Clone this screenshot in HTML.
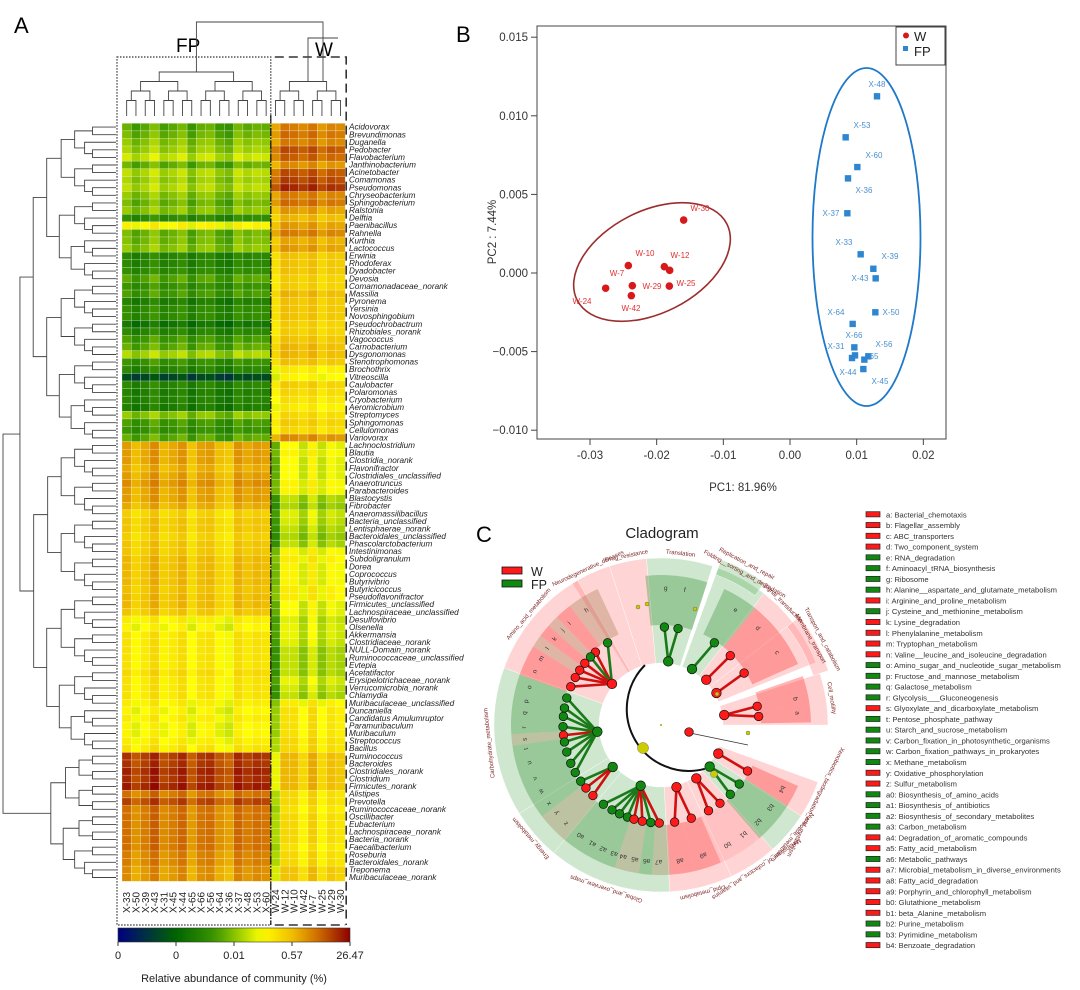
<!DOCTYPE html>
<html><head><meta charset="utf-8"><style>
html,body{margin:0;padding:0;background:#fff}
svg{display:block;font-family:"Liberation Sans",sans-serif}
</style></head><body>
<svg id="fig" width="1080" height="990" viewBox="0 0 1080 990" xmlns="http://www.w3.org/2000/svg">
<g id="panelA"></g>
<g id="panelB"></g>
<g id="panelC"></g>
</svg>
<script>
// ===== Panel A data =====
const taxa = ["Acidovorax","Brevundimonas","Duganella","Pedobacter","Flavobacterium","Janthinobacterium","Acinetobacter","Comamonas","Pseudomonas","Chryseobacterium","Sphingobacterium","Ralstonia","Delftia","Paenibacillus","Rahnella","Kurthia","Lactococcus","Erwinia","Rhodoferax","Dyadobacter","Devosia","Comamonadaceae_norank","Massilia","Pyronema","Yersinia","Novosphingobium","Pseudochrobactrum","Rhizobiales_norank","Vagococcus","Carnobacterium","Dysgonomonas","Stenotrophomonas","Brochothrix","Vitreoscilla","Caulobacter","Polaromonas","Cryobacterium","Aeromicrobium","Streptomyces","Sphingomonas","Cellulomonas","Variovorax","Lachnoclostridium","Blautia","Clostridia_norank","Flavonifractor","Clostridiales_unclassified","Anaerotruncus","Parabacteroides","Blastocystis","Fibrobacter","Anaeromassilibacillus","Bacteria_unclassified","Lentisphaerae_norank","Bacteroidales_unclassified","Phascolarctobacterium","Intestinimonas","Subdoligranulum","Dorea","Coprococcus","Butyrivibrio","Butyricicoccus","Pseudoflavonifractor","Firmicutes_unclassified","Lachnospiraceae_unclassified","Desulfovibrio","Olsenella","Akkermansia","Clostridiaceae_norank","NULL-Domain_norank","Ruminococcaceae_unclassified","Evtepia","Acetatifactor","Erysipelotrichaceae_norank","Verrucomicrobia_norank","Chlamydia","Muribaculaceae_unclassified","Duncaniella","Candidatus Amulumruptor","Paramuribaculum","Muribaculum","Streptococcus","Bacillus","Ruminococcus","Bacteroides","Clostridiales_norank","Clostridium","Firmicutes_norank","Alistipes","Prevotella","Ruminococcaceae_norank","Oscillibacter","Eubacterium","Lachnospiraceae_norank","Bacteria_norank","Faecalibacterium","Roseburia","Bacteroidales_norank","Treponema","Muribaculaceae_norank"];
const samples = ["X-33","X-50","X-39","X-43","X-31","X-45","X-44","X-65","X-66","X-56","X-64","X-36","X-37","X-48","X-53","X-60","W-24","W-12","W-10","W-42","W-7","W-25","W-29","W-30"];
const fpLevel = [.45,.47,.50,.52,.56,.46,.54,.52,.54,.50,.47,.50,.38,.63,.47,.48,.50,.36,.36,.38,.44,.40,.42,.34,.38,.38,.30,.36,.42,.45,.53,.40,.36,.18,.36,.34,.35,.33,.50,.42,.40,.45,
.78,.78,.78,.76,.78,.80,.78,.78,.76,.70,.72,.72,.70,.72,.72,.74,.74,.74,.74,.73,.74,.74,.72,.64,.62,.66,.66,.66,.66,.66,.68,.66,.66,.66,.64,.62,.64,.62,.62,.64,.66,
.92,.92,.94,.93,.95,.84,.90,.84,.84,.84,.84,.84,.84,.82,.82,.80,.80];
const wLevel = [.82,.84,.82,.88,.86,.80,.88,.90,.93,.82,.84,.78,.74,.78,.82,.76,.78,.72,.72,.72,.70,.70,.74,.72,.72,.72,.70,.70,.72,.74,.74,.72,.64,.62,.70,.68,.66,.64,.68,.70,.68,.80,
.58,.60,.58,.58,.58,.60,.60,.52,.50,.55,.54,.52,.50,.52,.60,.62,.60,.60,.60,.62,.62,.58,.58,.55,.56,.56,.55,.52,.52,.52,.52,.56,.54,.52,.62,.64,.64,.64,.64,.66,.66,
.72,.72,.72,.72,.72,.66,.66,.64,.66,.66,.66,.66,.64,.66,.66,.70,.70];
const colOffset = [.02,-.03,.00,.04,-.02,.00,.03,-.04,.01,.02,-.03,-.05,.03,.00,.02,.01,-.04,.03,.02,.00,.03,-.02,.01,.00];
const lowerBlockOffset = [0,0,0,0,0,0,0,0,0,0,0,0,0,0,0,0,-.08,.01,.02,-.02,.03,.00,.02,.01];
const cbTicks = ["0","0","0.01","0.57","26.47"];

// ===== Panel B data =====
const wPC1 = [-0.02425,-0.01885,-0.01805,-0.01595,-0.02765,-0.02365,-0.0181,-0.0238];
const wPC2 = [0.00047,0.0004,0.00017,0.00337,-0.00097,-0.00081,-0.00083,-0.00144];
const fpPC1 = [0.01305,0.00835,0.0101,0.0087,0.0086,0.0106,0.0125,0.01285,0.0128,0.0094,0.00965,0.00975,0.0093,0.01115,0.01175,0.0110];
const fpPC2 = [0.01124,0.00863,0.00674,0.00602,0.0038,0.00119,0.00027,-0.00034,-0.0025,-0.00324,-0.00473,-0.00524,-0.00541,-0.00551,-0.0053,-0.00611];
const xTicks = [-0.03,-0.02,-0.01,0,0.01,0.02];
const xTickLabels = ["-0.03","-0.02","-0.01","0.00","0.01","0.02"];
const yTicks = [0.015,0.01,0.005,0,-0.005,-0.01];
const yTickLabels = ["0.015","0.010","0.005","0.000","\u22120.005","\u22120.010"];

// ===== Panel C data =====
const leafIds = ["a","b","c","d","e","f","g","h","i","j","k","l","m","n","o","p","q","r","s","t","u","v","w","x","y","z","a0","a1","a2","a3","a4","a5","a6","a7","a8","a9","b0","b1","b2","b3","b4"];
const leafNames = ["Bacterial_chemotaxis","Flagellar_assembly","ABC_transporters","Two_component_system","RNA_degradation","Aminoacyl_tRNA_biosynthesis","Ribosome","Alanine__aspartate_and_glutamate_metabolism","Arginine_and_proline_metabolism","Cysteine_and_methionine_metabolism","Lysine_degradation","Phenylalanine_metabolism","Tryptophan_metabolism","Valine__leucine_and_isoleucine_degradation","Amino_sugar_and_nucleotide_sugar_metabolism","Fructose_and_mannose_metabolism","Galactose_metabolism","Glycolysis___Gluconeogenesis","Glyoxylate_and_dicarboxylate_metabolism","Pentose_phosphate_pathway","Starch_and_sucrose_metabolism","Carbon_fixation_in_photosynthetic_organisms","Carbon_fixation_pathways_in_prokaryotes","Methane_metabolism","Oxidative_phosphorylation","Sulfur_metabolism","Biosynthesis_of_amino_acids","Biosynthesis_of_antibiotics","Biosynthesis_of_secondary_metabolites","Carbon_metabolism","Degradation_of_aromatic_compounds","Fatty_acid_metabolism","Metabolic_pathways","Microbial_metabolism_in_diverse_environments","Fatty_acid_degradation","Porphyrin_and_chlorophyll_metabolism","Glutathione_metabolism","beta_Alanine_metabolism","Purine_metabolism","Pyrimidine_metabolism","Benzoate_degradation"];
const leafGroup = ["W","W","W","W","FP","FP","FP","FP","W","FP","W","W","W","W","FP","FP","FP","FP","W","FP","FP","FP","FP","FP","W","W","FP","FP","FP","FP","W","W","FP","W","W","W","W","W","FP","FP","W"];
const leafAngle = [355,349,328,315,303,280,272,237,228,224,219,214,209,203,196,190,185,179,174,170,164,157,151,145,140,134,126,120,115,110,106,101,96,91,82,72,61,53,45,37,28];
const leafShade = ["W","W","W","W","FP","FP","FP","M","W","M","W","M","W","W","FP","FP","FP","FP","M","FP","FP","FP","FP","FP","M","M","FP","FP","FP","FP","M","M","FP","M","W","W","Wp","Wp","FP","FP","W"];
const classNames = ["Cell_motility","Membrane_transport","Signal_transduction","Folding__sorting_and_degradation","Translation","Drug_resistance","Neurodegenerative_diseases","Amino_acid_metabolism","Carbohydrate_metabolism","Energy_metabolism","Global_and_overview_maps","Lipid_metabolism","Metabolism_of_cofactors_and_vitamins","Nucleotide_metabolism","Xenobiotics_biodegradation_and_metabolism","Replication_and_repair","Transport_and_catabolism"];
const classStart = [342,322,308,290,265,252,238,200,148,130,87,65,48,33,20,290,322];
const classEnd = [360,338,322,308,288,265,252,240,200,148,130,87,65,48,33,306,342];
const classGroup = ["W","W","W","FP","FP","W","W","W","FP","FP","FP","W","W","FP","W","FP","W"];
const classLeafFrom = [0,2,3,4,5,-1,-1,7,14,23,26,34,36,38,40,-1,-1];
const classLeafTo = [1,2,3,4,6,-1,-1,13,22,25,33,35,37,39,40,-1,-1];

const NS="http://www.w3.org/2000/svg";
function mk(parent,tag,attrs,text){const e=document.createElementNS(NS,tag);for(const k in attrs)e.setAttribute(k,attrs[k]);if(text!==undefined)e.textContent=text;parent.appendChild(e);return e;}

// ================= PANEL A =================
(function(){
const g=document.getElementById('panelA');
const x0=122,cw=9.3,y0=123.3,ch=7.58;
const stops=[[0,[0,0,128]],[0.25,[0,100,0]],[0.42,[60,150,0]],[0.52,[154,205,0]],[0.62,[255,255,0]],[0.75,[240,190,0]],[0.86,[208,110,0]],[1,[139,0,0]]];
function col(v){v=Math.max(0,Math.min(1,v));for(let i=1;i<stops.length;i++){if(v<=stops[i][0]){const a=stops[i-1],b=stops[i];const t=(v-a[0])/(b[0]-a[0]);const c=a[1].map((q,j)=>Math.round(q+(b[1][j]-q)*t));return `rgb(${c[0]},${c[1]},${c[2]})`;}}return 'rgb(139,0,0)';}
const xs=j=>x0+j*cw, ys=i=>y0+i*ch;
const lab=mk(g,'text',{x:14,y:33,'font-size':22});lab.textContent='A';

const cells=mk(g,'g',{});

for(let i=0;i<taxa.length;i++){for(let j=0;j<samples.length;j++){
 const base=j<16?fpLevel[i]:wLevel[i];
 const v=base+colOffset[j]+(i>=42?lowerBlockOffset[j]:0);
 const r=mk(cells,'rect',{x:xs(j),y:ys(i),width:cw,height:ch,fill:col(v),stroke:'rgba(255,255,255,0.45)','stroke-width':0.5});
 
 
}}
for(let i=0;i<taxa.length;i++){
 const t=mk(g,'text',{x:349,y:ys(i)+ch-1.2,'font-size':8.2,'font-style':'italic',fill:'#222'},taxa[i]);
 
 
}
for(let j=0;j<samples.length;j++){
 const cx=xs(j)+cw/2+3.5;
 const t=mk(g,'text',{x:cx,y:913,'font-size':10,fill:'#222',transform:`rotate(-90 ${cx} 913)`},samples[j]);
 
 
}
const hx=x0+16*cw, ex=x0+24*cw;
mk(g,'rect',{x:117,y:57,width:hx-117,height:868,fill:'none',stroke:'#333','stroke-width':1.2,'stroke-dasharray':'1.5,1.5'});
mk(g,'line',{x1:hx,y1:115,x2:hx,y2:925,stroke:'#111','stroke-width':1.2,'stroke-dasharray':'8,2,1,2'});
mk(g,'path',{d:`M${hx+4} 57 H${ex+1} V925 M${hx+4} 925 H${ex}`,fill:'none',stroke:'#333','stroke-width':1.6,'stroke-dasharray':'9,5'});
const fpT=mk(g,'text',{x:176,y:52,'font-size':19},'FP');
const wT=mk(g,'text',{x:315,y:56,'font-size':19},'W');
const dg=mk(g,'g',{stroke:'#444','stroke-width':0.9,fill:'none'});

function colD(lo,hi){ if(lo===hi) return {x:xs(lo)+cw/2,y:116};
 const mid=Math.floor((lo+hi+1)/2)-1; const a=colD(lo,mid), b=colD(mid+1,hi);
 const n=hi-lo+1; const y=116-(6+9.5*Math.log2(n));
 mk(dg,'path',{d:`M${a.x} ${a.y} V${y} H${b.x} V${b.y}`}); return {x:(a.x+b.x)/2,y};}
const A=colD(0,15), B=colD(16,23);
mk(dg,'path',{d:`M${A.x} ${A.y} V22 H${B.x+15} V${B.y-0} `});
mk(dg,'path',{d:`M${B.x} ${B.y} V38 H${B.x+30}`});
const rg=mk(g,'g',{stroke:'#444','stroke-width':0.9,fill:'none'});

function rowD(lo,hi){ if(lo===hi) return {x:116,y:ys(lo)+ch/2};
 let mid; if(lo===0&&hi===99) mid=82; else if(lo===0&&hi===82) mid=41; else mid=Math.floor((lo+hi+1)/2)-1;
 const a=rowD(lo,mid), b=rowD(mid+1,hi); const n=hi-lo+1;
 let x=116-(10+13.5*Math.log2(n)); if(lo===0&&hi===99) x=3;
 mk(rg,'path',{d:`M${a.x} ${a.y} H${x} V${b.y} H${b.x}`}); return {x,y:(a.y+b.y)/2};}
rowD(0,99);
const defs=mk(g,'defs',{}); const lg=mk(defs,'linearGradient',{id:'cbg',x1:0,x2:1,y1:0,y2:0});
for(let k=0;k<=20;k++){mk(lg,'stop',{offset:k/20,'stop-color':col(k/20)});}
const cb=mk(g,'rect',{x:118,y:928,width:232,height:14,fill:'url(#cbg)',stroke:'#333','stroke-width':0.6});

cbTicks.forEach((s,k)=>{const x=118+k*58;mk(g,'line',{x1:x,y1:942,x2:x,y2:946,stroke:'#333'});
 const t=mk(g,'text',{x:x,y:959,'font-size':11,'text-anchor':'middle',fill:'#222'},s);
 });
const ct=mk(g,'text',{x:234,y:982,'font-size':11,'text-anchor':'middle',fill:'#222'},'Relative abundance of community (%)');

})();

// ================= PANEL B =================
(function(){
const g=document.getElementById('panelB');
const L=537,T=26,R=946,Bt=439;
const xS=v=>790+v*6667, yS=v=>273-v*15720;
const lab=mk(g,'text',{x:456,y:42,'font-size':22},'B');
mk(g,'rect',{x:L,y:T,width:R-L,height:Bt-T,fill:'none',stroke:'#444','stroke-width':1});
xTicks.forEach((v,k)=>{const x=xS(v);mk(g,'line',{x1:x,y1:Bt,x2:x,y2:Bt+6,stroke:'#444'});
 const t=mk(g,'text',{x:x,y:Bt+20,'font-size':11.5,'text-anchor':'middle',fill:'#333'},xTickLabels[k]);
 });
yTicks.forEach((v,k)=>{const y=yS(v);mk(g,'line',{x1:L-6,y1:y,x2:L,y2:y,stroke:'#444'});
 const t=mk(g,'text',{x:L-9,y:y+4,'font-size':11.5,'text-anchor':'end',fill:'#333'},yTickLabels[k]);
 });
const xt=mk(g,'text',{x:743,y:491,'font-size':11.5,'text-anchor':'middle',fill:'#333'},'PC1: 81.96%');

const yt=mk(g,'text',{x:0,y:0,'font-size':11.5,'text-anchor':'middle',fill:'#333',transform:'translate(496,232) rotate(-90)'},'PC2 :  7.44%');

mk(g,'ellipse',{cx:652,cy:262,rx:84,ry:51,fill:'none',stroke:'#9b2d2d','stroke-width':1.6,transform:'rotate(-27 652 262)'});
mk(g,'ellipse',{cx:866.5,cy:237,rx:54,ry:169,fill:'none',stroke:'#1f78c8','stroke-width':1.8});
const wLab=[["W-10",645,256],["W-12",680,258],["W-30",700,211],["W-24",582,304],["W-29",652,289],["W-25",686,286],["W-42",631,311],["W-7",617,276]];
for(let i=0;i<wPC1.length;i++){
 const c=mk(g,'circle',{cx:xS(wPC1[i]),cy:yS(wPC2[i]),r:3.8,fill:'#d7191c'});
 
 
}
wLab.forEach(l=>{const t=mk(g,'text',{x:l[1],y:l[2],'font-size':8,fill:'#e03030','text-anchor':'middle'},l[0]);});
for(let i=0;i<fpPC1.length;i++){
 const s=mk(g,'rect',{x:xS(fpPC1[i])-3.2,y:yS(fpPC2[i])-3.2,width:6.4,height:6.4,fill:'#2e86d0'});
 
 
}
const fpL=[["X-48",877,87],["X-53",862,128],["X-60",874,158],["X-36",864,193],["X-37",831,216],["X-33",844,245],["X-39",890,259],["X-43",860,281],["X-64",836,315],["X-50",891,315],["X-66",854,338],["X-56",884,347],["X-31",836,349],["65",874,359],["X-44",848,375],["X-45",880,384]];
fpL.forEach(l=>{const t=mk(g,'text',{x:l[1],y:l[2],'font-size':8,fill:'#4a90d0','text-anchor':'middle'},l[0]);});
const lgd=mk(g,'g',{});
mk(lgd,'rect',{x:896,y:27,width:49,height:38,fill:'#fff',stroke:'#444','stroke-width':1});
mk(lgd,'circle',{cx:906,cy:35.5,r:3,fill:'#d7191c'});
mk(lgd,'rect',{x:903,y:46,width:5,height:5,fill:'#2e86d0'});
mk(lgd,'text',{x:914,y:41,'font-size':13,fill:'#222'},'W');
mk(lgd,'text',{x:914,y:56,'font-size':13,fill:'#222'},'FP');
})();

// ================= PANEL C =================
(function(){
const g=document.getElementById('panelC');
const CX=661,CY=725;
const rad=a=>a*Math.PI/180;
const pt=(r,a)=>[CX+r*Math.cos(rad(a)),CY+r*Math.sin(rad(a))];
function wedge(r0,r1,a0,a1){const p0=pt(r1,a0),p1=pt(r1,a1),p2=pt(r0,a1),p3=pt(r0,a0);const lg=(a1-a0)>180?1:0;
 return `M${p0[0]} ${p0[1]} A${r1} ${r1} 0 ${lg} 1 ${p1[0]} ${p1[1]} L${p2[0]} ${p2[1]} A${r0} ${r0} 0 ${lg} 0 ${p3[0]} ${p3[1]}Z`;}
const lab=mk(g,'text',{x:476,y:542,'font-size':22},'C');
const ttl=mk(g,'text',{x:662,y:538,'font-size':15,'text-anchor':'middle',fill:'#222'},'Cladogram');
const paleC={W:'rgba(255,120,120,0.32)',FP:'rgba(60,160,60,0.25)'};
for(let k=0;k<classNames.length;k++){
 const outer=k>=15?176:167, inner=k>=15?160:62;
 const w=mk(g,'path',{d:wedge(inner,outer,classStart[k],classEnd[k]),fill:paleC[classGroup[k]],stroke:'#fff','stroke-width':0.4});
 
 
}
const shadeC={W:'rgba(255,60,60,0.38)',Wp:'rgba(255,120,120,0.2)',FP:'rgba(30,130,30,0.3)',M:'rgba(150,110,60,0.3)'};
for(let i=0;i<leafIds.length;i++){
 const prev=i>0?leafAngle[i-1]:leafAngle[i]+8, next=i<leafIds.length-1?leafAngle[i+1]:leafAngle[i]-8;
 const a1=Math.min(leafAngle[i]+(prev-leafAngle[i])/2,leafAngle[i]+8), a0=Math.max(leafAngle[i]-(leafAngle[i]-next)/2,leafAngle[i]-8);
 const w=mk(g,'path',{d:wedge(100,150,a0,a1),fill:shadeC[leafShade[i]]});
 
 
 const p=pt(137,leafAngle[i]);
 const t=mk(g,'text',{x:p[0],y:p[1]+2,'font-size':6.5,'text-anchor':'middle',fill:'#333',transform:`rotate(${leafAngle[i]+90} ${p[0]} ${p[1]})`},leafIds[i]);
 
 
}
for(let k=0;k<classNames.length;k++){
 const a=(classStart[k]+classEnd[k])/2, r=k>=15?181:171;
 const p=pt(r,a);
 const t=mk(g,'text',{x:p[0],y:p[1],'font-size':6,'text-anchor':'middle',fill:'#7a1f1f',transform:`rotate(${a+90} ${p[0]} ${p[1]})`},classNames[k]);
 
 
}
const a0p=pt(62,45),a1p=pt(62,255);
mk(g,'path',{d:`M${a0p[0]} ${a0p[1]} A62 62 0 0 1 ${a1p[0]} ${a1p[1]}`,fill:'none',stroke:'#111','stroke-width':2});
const nodeC={W:'#ff1a1a',FP:'#118811'};
const lineC={W:'#d01010',FP:'#1a7a1a'};
for(let k=0;k<classNames.length;k++){
 if(classLeafFrom[k]<0) continue;
 const am=(classStart[k]+classEnd[k])/2; const cp=pt(64,am);
 for(let i=classLeafFrom[k];i<=classLeafTo[k];i++){
  const lp=pt(98,leafAngle[i]);
  mk(g,'line',{x1:cp[0],y1:cp[1],x2:lp[0],y2:lp[1],stroke:lineC[leafGroup[i]],'stroke-width':2.6});
 }
 for(let i=classLeafFrom[k];i<=classLeafTo[k];i++){
  const lp=pt(98,leafAngle[i]);
  const c=mk(g,'circle',{cx:lp[0],cy:lp[1],r:4.3,fill:nodeC[leafGroup[i]],stroke:'#111','stroke-width':0.7});
  
  
 }
 const c=mk(g,'circle',{cx:cp[0],cy:cp[1],r:4.8,fill:nodeC[classGroup[k]],stroke:'#111','stroke-width':0.7});
 
 
}
[[643,748,5.5],[638,607,2],[647,604,2],[695,609,2],[717,694,2],[748,733,2],[714,774,3.5]].forEach(q=>{
 const c=mk(g,'circle',{cx:q[0],cy:q[1],r:q[2],fill:'#cccc00',stroke:'#555','stroke-width':0.4});
 });
mk(g,'line',{x1:690,y1:733,x2:748,y2:745,stroke:'#333','stroke-width':0.8});
mk(g,'circle',{cx:689,cy:732,r:4.3,fill:'#ff1a1a',stroke:'#111','stroke-width':0.7});
mk(g,'circle',{cx:661,cy:725,r:1,fill:'#aa0'});
const sl=mk(g,'g',{});
mk(sl,'rect',{x:502,y:567,width:20,height:7,fill:'#ff1a1a',stroke:'#111','stroke-width':0.8});
mk(sl,'rect',{x:502,y:580,width:20,height:7,fill:'#118811',stroke:'#111','stroke-width':0.8});
mk(sl,'text',{x:531,y:576,'font-size':12.5,fill:'#222'},'W');
mk(sl,'text',{x:531,y:589,'font-size':12.5,fill:'#222'},'FP');
const rl=mk(g,'g',{});
for(let i=0;i<leafIds.length;i++){
 const y=514.3+i*10.77;
 const b=mk(rl,'rect',{x:866,y:y-2.6,width:14,height:5.2,fill:nodeC[leafGroup[i]],stroke:'#222','stroke-width':0.7});
 
 
 const t=mk(rl,'text',{x:886,y:y+3,'font-size':7.6,fill:'#333'},leafIds[i]+': '+leafNames[i]);
 
 
}
})();
</script>
</body></html>
